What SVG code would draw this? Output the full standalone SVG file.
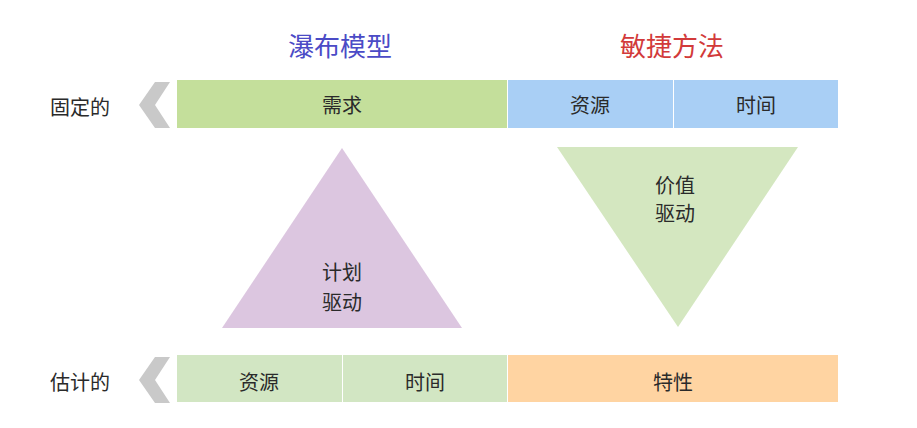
<svg xmlns="http://www.w3.org/2000/svg" width="917" height="428" viewBox="0 0 917 428">
<style>
text{font-family:"Noto Sans CJK SC","Noto Sans",sans-serif;text-anchor:middle;dominant-baseline:central;}
.lbl{font-size:20px;fill:#2a2a2a;}
.side{font-size:20px;fill:#2a2a2a;}
.title{font-size:26px;}
.chev{fill:#c9c9c9;}
</style>
<rect width="917" height="428" fill="#ffffff"/>
<g id="title-waterfall"><text class="title" x="340" y="44" fill="#4b4bc6">瀑布模型</text></g>
<g id="title-agile"><text class="title" x="672" y="44" fill="#d23a3a">敏捷方法</text></g>
<g id="row-fixed">
<text class="side" x="80" y="106">固定的</text>
<polygon class="chev" points="155,82 170,82 155,105 170,128 155,128 139,105"/>
</g>
<g id="row-estimated">
<text class="side" x="80" y="381">估计的</text>
<polygon class="chev" points="155,357 170,357 155,380 170,403 155,403 139,380"/>
</g>
<g id="req"><rect x="177" y="80" width="330" height="48" fill="#c4df9b"/><text class="lbl" x="342" y="104">需求</text></g>
<g id="res-top"><rect x="508" y="80" width="165" height="48" fill="#a9cff5"/><text class="lbl" x="590" y="104">资源</text></g>
<g id="time-top"><rect x="674" y="80" width="164" height="48" fill="#a9cff5"/><text class="lbl" x="756" y="104">时间</text></g>
<g id="res-bot"><rect x="177" y="355" width="165" height="47" fill="#d2e6c3"/><text class="lbl" x="259" y="381">资源</text></g>
<g id="time-bot"><rect x="343" y="355" width="164" height="47" fill="#d2e6c3"/><text class="lbl" x="425" y="381">时间</text></g>
<g id="feature"><rect x="508" y="355" width="330" height="47" fill="#ffd4a2"/><text class="lbl" x="673" y="381">特性</text></g>
<g id="plan-driven">
<polygon points="342,148 462,328 222,328" fill="#dcc6e0"/>
<text class="lbl" x="342" y="271">计划</text>
<text class="lbl" x="342" y="301">驱动</text>
</g>
<g id="value-driven">
<polygon points="557,147 798,147 678,327" fill="#d4e7c0"/>
<text class="lbl" x="675" y="184">价值</text>
<text class="lbl" x="675" y="212">驱动</text>
</g>
<g id="connectors"></g>
</svg>
